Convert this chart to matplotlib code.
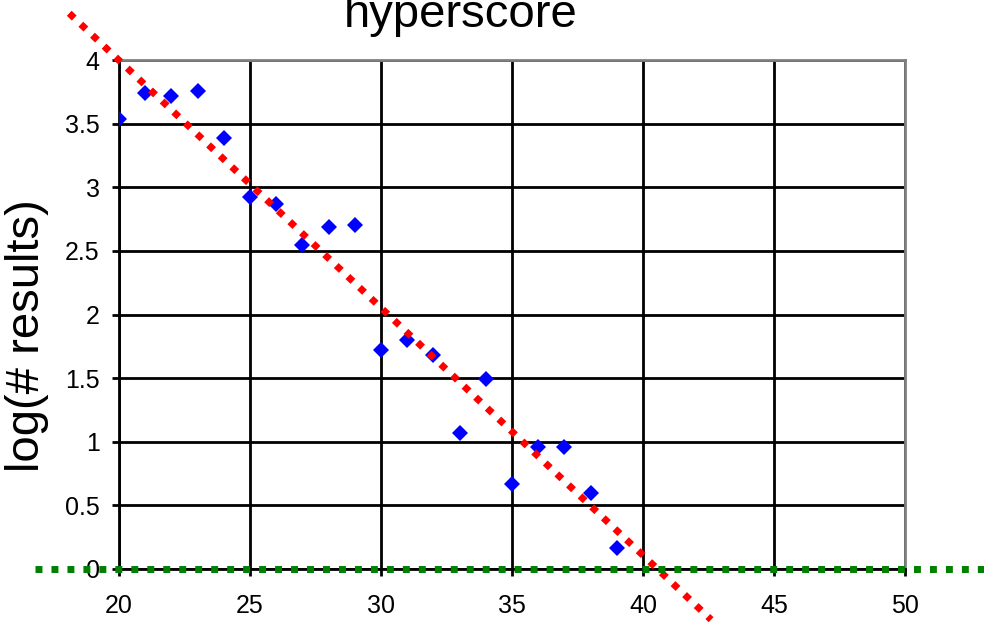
import numpy as np
import matplotlib
matplotlib.use("Agg")
import matplotlib.pyplot as plt

plt.rcParams['font.family'] = ['Liberation Sans', 'DejaVu Sans']

# hyperscore vs log of result count
score = [20, 21, 22, 23, 24, 25, 26, 27, 28, 29,
         30, 31, 32, 33, 34, 35, 36, 37, 38, 39]
log_results = [3.54, 3.74, 3.72, 3.76, 3.39, 2.92, 2.87, 2.55, 2.69, 2.70,
               1.72, 1.80, 1.68, 1.07, 1.49, 0.67, 0.96, 0.96, 0.60, 0.165]

trend_range = [18.1, 42.6]
zero_range = [16.8, 56]

xticks = [20, 25, 30, 35, 40, 45, 50]
yticks = [0, 0.5, 1, 1.5, 2, 2.5, 3, 3.5, 4]

fig = plt.figure(figsize=(9.84, 6.26), dpi=100)
ax = fig.add_axes([119/984, 57/626, (905-119)/984, (569-60)/626])

# linear trendline (least squares, like the spreadsheet one)
slope, icpt = np.polyfit(score, log_results, 1)
tx = np.array(trend_range)
ax.plot(tx, slope*tx + icpt, color='#ff0000', lw=5, ls=(0, (1, 1.3)),
        dash_capstyle='butt', clip_on=False, zorder=4)

ax.plot(zero_range, [0, 0], color='#008000', lw=5, ls=(0, (1, 1.3)),
        dash_capstyle='butt', clip_on=False, zorder=5)

ax.plot(score, log_results, ls='none', marker='D', ms=7.8, color='#0000ff',
        mew=0, zorder=3)

ax.set_xlim(20, 50)
ax.set_ylim(0, 4)
ax.set_xticks(xticks)
ax.set_yticks(yticks)
ax.set_yticklabels(['0', '0.5', '1', '1.5', '2', '2.5', '3', '3.5', '4'])
ax.grid(True, color='black', lw=2)
ax.set_axisbelow(True)
ax.tick_params(direction='out', length=5, width=2, labelsize=18, color='black')
ax.tick_params(axis='x', pad=13)
ax.tick_params(axis='y', pad=9)

for s in ['left', 'bottom']:
    ax.spines[s].set_color('black')
    ax.spines[s].set_linewidth(2)
for s in ['top', 'right']:
    ax.spines[s].set_color('#808080')
    ax.spines[s].set_linewidth(2)

fig.text(461/984, 1 - 27/626, 'hyperscore', fontsize=34, ha='center', va='baseline')
fig.text(27/984, 1 - 336/626, 'log(# results)', fontsize=34, rotation=90,
         ha='center', va='center')

fig.savefig('out.png', dpi=100)
